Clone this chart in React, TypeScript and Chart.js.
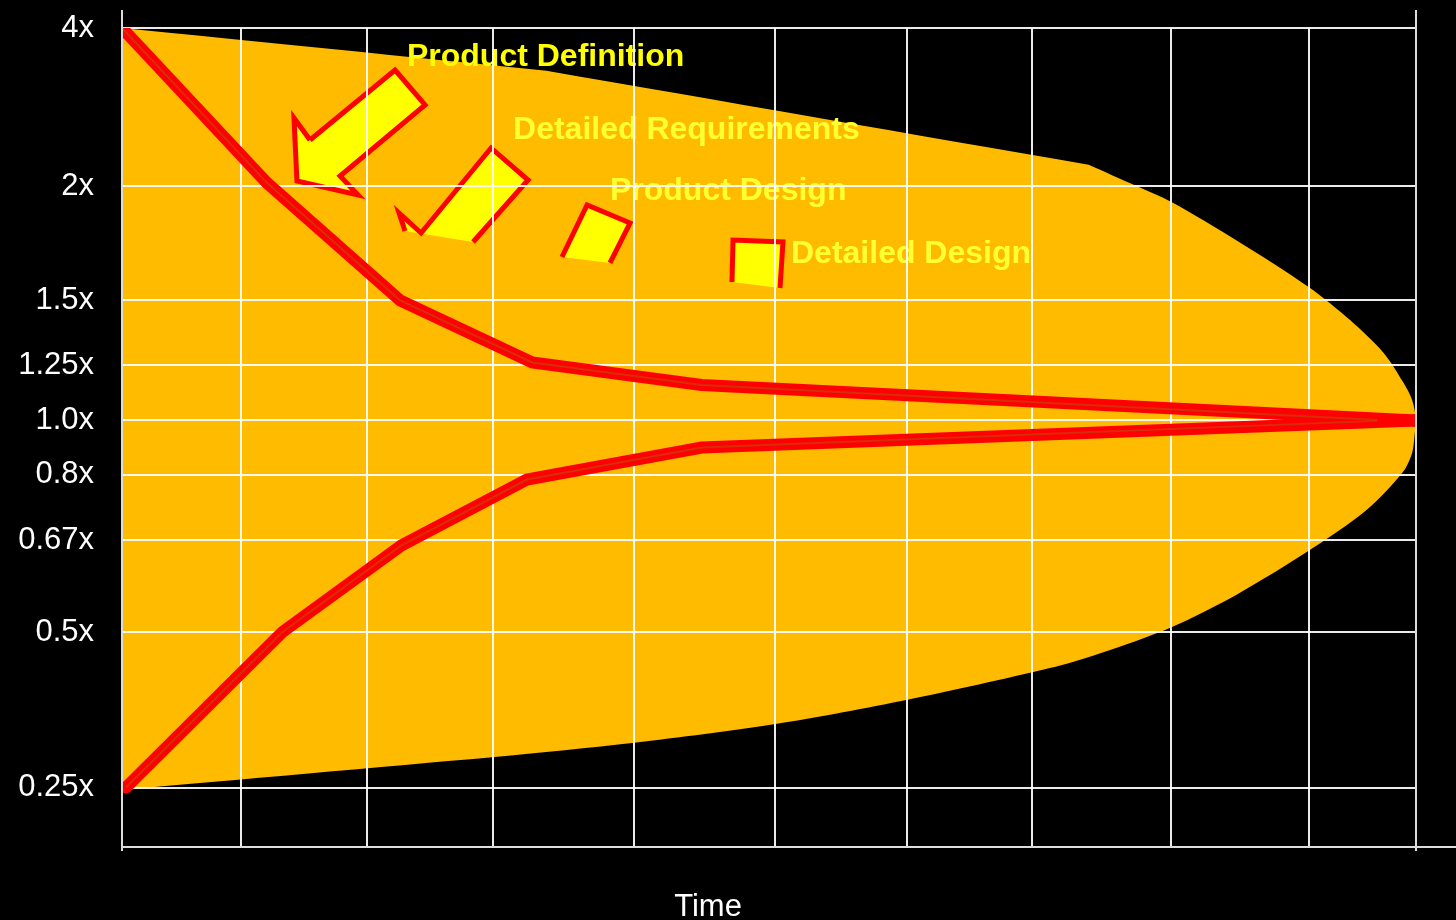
import { useEffect, useRef } from 'react';
import { Chart, registerables } from 'chart.js';

Chart.register(...registerables);

const FONT = '"Liberation Sans", Arial, Helvetica, sans-serif';

// Estimate-range axis: labels and where each sits on the 0–100 axis
const tickValues = [4, 2, 1.5, 1.25, 1.0, 0.8, 0.67, 0.5, 0.25];
const tickLabels = ['4x', '2x', '1.5x', '1.25x', '1.0x', '0.8x', '0.67x', '0.5x', '0.25x'];
const tickPositions = [100, 80.71, 66.73, 58.85, 52.08, 45.48, 37.48, 26.25, 7.26];

// Time axis grid (0 = project start, 100 = completion)
const timeGrid = [0, 9.2, 18.9, 28.7, 39.6, 50.5, 60.7, 70.3, 81.1, 91.7, 100];

// Upper and lower bounds of the estimate
const upperTime = [0, 11.2, 21.5, 31.7, 44.8, 100];
const upperRange = [4, 2.04, 1.5, 1.26, 1.16, 1.0];
const lowerTime = [0.3, 12.4, 21.6, 31.3, 44.8, 100];
const lowerRange = [0.25, 0.5, 0.66, 0.79, 0.9, 1.0];

// Outline of the cone of uncertainty (top edge left→right, bottom edge right→left)
const coneTopTime = [0, 32.8, 74.7, 78.4, 81.1, 86.2, 91.7, 94.9, 97.5, 99.0, 99.7, 100];
const coneTopRange = [4, 3.46, 2.27, 2.0, 1.93, 1.76, 1.559, 1.424, 1.297, 1.173, 1.092, 1.0];
const coneBottomTime = [99.9, 99.7, 99.0, 96.2, 91.7, 86.2, 81.1, 75.6, 71.7, 60.7, 50.5, 39.6, 28.8, 0];
const coneBottomRange = [0.95, 0.88, 0.81, 0.73, 0.65, 0.57, 0.509, 0.466, 0.442, 0.391, 0.352, 0.322, 0.299, 0.246];
// Sharp corners of the outline (indices into the joined top + bottom outline)
const coneCorners = [0, 1, 2, 24, 25];

// Phase milestones
const phaseNames = ['Product Definition', 'Detailed Requirements', 'Product Design', 'Detailed Design'];

// Callout shapes in axis units [time, axis position]; the closing edge of each is left unstroked
const phaseShapes: number[][][] = [
  [[14.53, 86.32], [21.1, 94.87], [23.42, 90.6], [16.85, 81.93], [18.24, 79.61], [13.52, 81.32], [13.29, 89.01], [14.53, 86.32]],
  [[27.13, 73.87], [31.38, 81.44], [28.52, 85.35], [23.11, 74.97], [21.41, 77.41], [21.87, 75.21]],
  [[37.71, 71.31], [39.26, 76.19], [35.94, 78.39], [34.0, 72.04]],
  [[50.85, 68.25], [51.08, 73.87], [47.22, 74.11], [47.14, 68.99]],
];
const phaseLabelAt: number[][] = [
  [22.02, 95.36],
  [30.22, 86.45],
  [37.71, 79.0],
  [51.7, 71.31],
];
const phaseLabelColors = ['#FFFF00', '#FFFF33', '#FFFF33', '#FFFF33'];

// Place a multiplier on the non-uniform estimate axis
function toAxis(m: number): number {
  let i = 0;
  for (i = 0; i < tickValues.length - 2; i++) {
    if (m >= tickValues[i + 1]) break;
  }
  const v0 = tickValues[i];
  const v1 = tickValues[i + 1];
  const p0 = tickPositions[i];
  const p1 = tickPositions[i + 1];
  return p0 + ((m - v0) / (v1 - v0)) * (p1 - p0);
}

function toPoints(xs: number[], ys: number[]) {
  return xs.map((x, i) => ({ x, y: toAxis(ys[i]) }));
}

const GRID = 'rgba(255,255,255,0.92)';
const AXIS = '#dcdcdc';

export default function App() {
  const ref = useRef<HTMLCanvasElement>(null);

  useEffect(() => {
    document.body.style.margin = '0';
    document.body.style.background = '#000';
    const canvas = ref.current;
    if (!canvas) return;

    // A repeated vertex keeps the spline straight into and out of a corner
    const outline = [...toPoints(coneTopTime, coneTopRange), ...toPoints(coneBottomTime, coneBottomRange)];
    const cone: { x: number; y: number }[] = [];
    outline.forEach((p, i) => {
      cone.push(p);
      if (coneCorners.includes(i)) cone.push({ ...p });
    });
    const upper = toPoints(upperTime, upperRange);
    const lower = toPoints(lowerTime, lowerRange);

    // Phase callouts sit on the cone but beneath the grid
    const phasePlugin = {
      id: 'phaseCallouts',
      beforeDraw(chart: any) {
        const { ctx, scales } = chart;
        const px = (v: number) => scales.x.getPixelForValue(v);
        const py = (v: number) => scales.y.getPixelForValue(v);
        ctx.save();
        phaseShapes.forEach((shape) => {
          ctx.beginPath();
          shape.forEach(([t, p], i) => (i ? ctx.lineTo(px(t), py(p)) : ctx.moveTo(px(t), py(p))));
          ctx.closePath();
          ctx.fillStyle = '#FFFF00';
          ctx.fill();
          ctx.beginPath();
          shape.forEach(([t, p], i) => (i ? ctx.lineTo(px(t), py(p)) : ctx.moveTo(px(t), py(p))));
          ctx.strokeStyle = '#FF0000';
          ctx.lineWidth = 5;
          ctx.lineJoin = 'miter';
          ctx.stroke();
        });
        ctx.font = `bold 32px ${FONT}`;
        ctx.textAlign = 'left';
        ctx.textBaseline = 'alphabetic';
        phaseNames.forEach((name, i) => {
          ctx.fillStyle = phaseLabelColors[i];
          ctx.fillText(name, px(phaseLabelAt[i][0]), py(phaseLabelAt[i][1]));
        });
        ctx.restore();
      },
    };

    // Frame extensions and the time caption
    const framePlugin = {
      id: 'frame',
      afterDraw(chart: any) {
        const { ctx, chartArea, width } = chart;
        ctx.save();
        ctx.strokeStyle = AXIS;
        ctx.lineWidth = 2;
        ctx.beginPath();
        ctx.moveTo(chartArea.right, chartArea.bottom);
        ctx.lineTo(width, chartArea.bottom);
        ctx.moveTo(chartArea.left, chartArea.top - 18);
        ctx.lineTo(chartArea.left, chartArea.bottom + 4);
        ctx.moveTo(chartArea.right, chartArea.top - 18);
        ctx.lineTo(chartArea.right, chartArea.bottom + 4);
        ctx.stroke();
        ctx.fillStyle = '#FFFFFF';
        ctx.font = `31px ${FONT}`;
        ctx.textAlign = 'center';
        ctx.textBaseline = 'alphabetic';
        ctx.fillText('Time', 708, 916);
        ctx.restore();
      },
    };

    const lastDot = (n: number) => (c: any) => (c.dataIndex === n - 1 ? 6.5 : 0);
    const CORE = 'rgba(190,75,15,0.6)';

    const chart = new Chart(canvas, {
      type: 'line',
      data: {
        datasets: [
          {
            label: 'Cone',
            data: cone,
            fill: 'shape',
            backgroundColor: '#FFBB00',
            borderColor: 'transparent',
            borderWidth: 0,
            pointRadius: 0,
            tension: 0.3,
            order: 3,
          },
          {
            label: 'Upper bound',
            data: upper,
            borderColor: '#FF0000',
            borderWidth: 12,
            borderCapStyle: 'round',
            pointRadius: lastDot(upper.length),
            pointBackgroundColor: '#FF0000',
            pointBorderWidth: 0,
            fill: false,
            tension: 0,
            order: 2,
          },
          {
            label: 'Lower bound',
            data: lower,
            borderColor: '#FF0000',
            borderWidth: 12,
            borderCapStyle: 'round',
            pointRadius: lastDot(lower.length),
            pointBackgroundColor: '#FF0000',
            pointBorderWidth: 0,
            fill: false,
            tension: 0,
            order: 2,
          },
          {
            label: 'Upper bound core',
            data: upper.slice(0, -1).concat([{ x: 97, y: upper[upper.length - 1].y + 0.05 }]),
            borderColor: CORE,
            borderWidth: 2,
            pointRadius: 0,
            fill: false,
            tension: 0,
            order: 1,
          },
          {
            label: 'Lower bound core',
            data: lower.slice(0, -1).concat([{ x: 97, y: lower[lower.length - 1].y - 0.05 }]),
            borderColor: CORE,
            borderWidth: 2,
            pointRadius: 0,
            fill: false,
            tension: 0,
            order: 1,
          },
        ],
      },
      options: {
        responsive: false,
        animation: false,
        devicePixelRatio: 1,
        events: [],
        layout: { padding: { left: 0, right: 40, top: 28, bottom: 0 } },
        plugins: {
          legend: { display: false },
          tooltip: { enabled: false },
          filler: { drawTime: 'beforeDraw' },
        },
        scales: {
          x: {
            type: 'linear',
            min: 0,
            max: 100,
            afterBuildTicks: (s: any) => {
              s.ticks = timeGrid.map((v) => ({ value: v }));
            },
            afterFit: (s: any) => {
              s.height = 73;
              s.paddingLeft = 0;
              s.paddingRight = 0;
            },
            ticks: { display: false },
            grid: { color: GRID, lineWidth: 2, drawTicks: false },
            border: { display: true, color: AXIS, width: 2 },
          },
          y: {
            type: 'linear',
            min: 0,
            max: 100,
            afterBuildTicks: (s: any) => {
              s.ticks = tickPositions.map((v) => ({ value: v }));
            },
            afterFit: (s: any) => {
              s.width = 122;
              s.paddingTop = 0;
              s.paddingBottom = 0;
            },
            ticks: {
              autoSkip: false,
              padding: 28,
              color: '#FFFFFF',
              font: { family: FONT, size: 31 },
              callback: (_v: any, i: number) => tickLabels[i],
            },
            grid: { color: GRID, lineWidth: 2, drawTicks: false },
            border: { display: true, color: AXIS, width: 2 },
          },
        },
      },
      plugins: [phasePlugin, framePlugin],
    } as any);

    return () => chart.destroy();
  }, []);

  return <canvas ref={ref} width={1456} height={920} style={{ display: 'block' }} />;
}
